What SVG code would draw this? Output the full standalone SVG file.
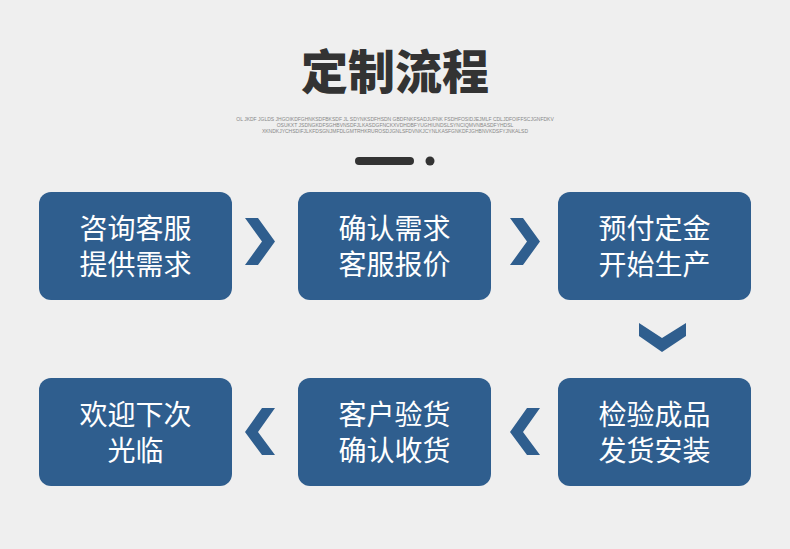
<svg xmlns="http://www.w3.org/2000/svg" width="790" height="549" viewBox="0 0 790 549">
<style>
.box{fill:#2f5e8e}
.t{font-family:"Noto Sans CJK SC","Noto Sans",sans-serif;font-size:28px;fill:#ffffff;text-anchor:middle}
.chev{fill:#2f5e8e}
.small{font-family:"Liberation Sans",sans-serif;font-size:5px;fill:#888;text-anchor:middle}
</style>
<rect width="790" height="549" fill="#efefef"/>
<text x="395" y="89" text-anchor="middle" font-family="Noto Sans CJK SC,sans-serif" font-weight="900" font-size="47" fill="#333">定制流程</text>
<g id="subtitle">
<text class="small" x="395" y="121">OL JKDF JGLDS JHGOIKDFGHNKSDFBKSDF JL SDYNKSDFHSDN GBDFNKFSADJUFNK FSDHFOSIDJEJMLF CDLJDFOIFFSCJGNFDKV<tspan x="395" dy="6">OSUKXT JSDNGKDFSGHBVNSDFJLKASDGFNCKXVDHDBFYUGHIUNDSLSYNCIQMVNBASDFYHDSL</tspan><tspan x="395" dy="6">XKNDKJYCHSDIFJLKFDSGNJMFDLGMTRHKRUROSDJGNLSFDVNKJCYNLKASFGNKDFJGHBNVKDSFYJNKALSD</tspan></text>
</g>
<line x1="359" y1="161" x2="410" y2="161" stroke="#333" stroke-width="8" stroke-linecap="round"/>
<circle cx="430" cy="161" r="4.5" fill="#333"/>
<g id="n1"><rect class="box" x="39" y="192" width="193" height="108" rx="12"/><text class="t" x="135.5" y="239">咨询客服<tspan x="135.5" dy="36">提供需求</tspan></text></g>
<g id="n2"><rect class="box" x="298" y="192" width="193" height="108" rx="12"/><text class="t" x="394.5" y="239">确认需求<tspan x="394.5" dy="36">客服报价</tspan></text></g>
<g id="n3"><rect class="box" x="558" y="192" width="193" height="108" rx="12"/><text class="t" x="654.5" y="239">预付定金<tspan x="654.5" dy="36">开始生产</tspan></text></g>
<g id="n4"><rect class="box" x="558" y="378" width="193" height="108" rx="12"/><text class="t" x="654.5" y="425">检验成品<tspan x="654.5" dy="36">发货安装</tspan></text></g>
<g id="n5"><rect class="box" x="298" y="378" width="193" height="108" rx="12"/><text class="t" x="394.5" y="425">客户验货<tspan x="394.5" dy="36">确认收货</tspan></text></g>
<g id="n6"><rect class="box" x="39" y="378" width="193" height="108" rx="12"/><text class="t" x="135.5" y="425">欢迎下次<tspan x="135.5" dy="36">光临</tspan></text></g>
<g id="connectors">
<polygon class="chev" points="245,218 258,218 275,241.5 258,265 245,265 262,241.5"/>
<polygon class="chev" points="510,218 523,218 540,241.5 523,265 510,265 527,241.5"/>
<polygon class="chev" points="639,323 662,338 686,323 686,336 662,352 639,336"/>
<polygon class="chev" points="540,408 527,408 510,432 527,455 540,455 523,432"/>
<polygon class="chev" points="275,408 262,408 245,432 262,455 275,455 258,432"/>
</g>
</svg>
